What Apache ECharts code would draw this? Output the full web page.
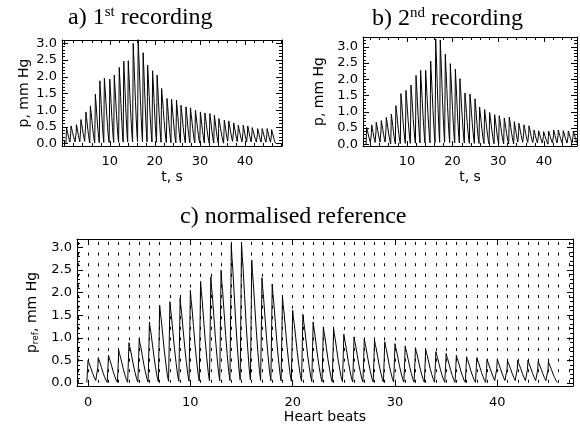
<!DOCTYPE html>
<html>
<head>
<meta charset="utf-8">
<script src="https://cdn.jsdelivr.net/npm/echarts@6/dist/echarts.min.js"></script>
<style>
  html, body { margin: 0; padding: 0; background: #fff; }
  #chart { width: 580px; height: 428px; }
</style>
</head>
<body>
<div id="chart"></div>
<script>
// peak pressure of every beat (mm Hg) and the time of that peak (s)
const peaksA = [0.48, 0.53, 0.57, 0.72, 0.95, 1.13, 1.48, 1.88, 1.96, 1.93, 2.05, 2.28, 2.47, 2.48, 3.00, 3.12,
  2.72, 2.35, 2.18, 2.05, 1.65, 1.35, 1.33, 1.30, 1.15, 1.10, 1.07, 1.00, 0.95, 0.92, 0.90, 0.85,
  0.75, 0.70, 0.68, 0.62, 0.55, 0.55, 0.53, 0.48, 0.45, 0.45, 0.45, 0.42]
const timesA = [0.4, 1.4, 2.6, 3.6, 4.7, 5.7, 6.8, 7.8, 8.8, 10.0, 11.0, 12.1, 13.1, 14.1, 15.2, 16.3,
  17.4, 18.4, 19.5, 20.5, 21.5, 22.7, 23.7, 24.8, 25.8, 26.9, 27.9, 29.0, 30.1, 31.1, 32.2, 33.2,
  34.2, 35.4, 36.4, 37.5, 38.5, 39.6, 40.6, 41.6, 42.8, 43.8, 44.9, 45.9]

const peaksB = [0.52, 0.60, 0.68, 0.73, 0.83, 0.93, 1.19, 1.56, 1.66, 1.82, 2.12, 2.28, 2.28, 2.56, 3.24, 3.21,
  2.77, 2.48, 2.31, 2.02, 1.58, 1.55, 1.40, 1.15, 1.07, 0.98, 0.91, 0.88, 0.81, 0.84, 0.70, 0.65,
  0.60, 0.57, 0.44, 0.42, 0.39, 0.41, 0.44, 0.44, 0.42, 0.41, 0.41]
const timesB = [1.2, 2.3, 3.3, 4.4, 5.5, 6.6, 7.6, 8.7, 9.8, 10.9, 12.0, 13.0, 14.1, 15.2, 16.3, 17.3,
  18.4, 19.5, 20.6, 21.6, 22.7, 23.8, 24.9, 25.9, 27.0, 28.1, 29.2, 30.2, 31.3, 32.4, 33.5, 34.5,
  35.6, 36.7, 37.8, 38.8, 39.9, 41.0, 42.1, 43.1, 44.2, 45.3, 46.4]

const beatsRef = [0, 1, 2, 3, 4, 5, 6, 7, 8, 9, 10, 11, 12, 13, 14, 15, 16, 17, 18, 19, 20, 21, 22,
  23, 24, 25, 26, 27, 28, 29, 30, 31, 32, 33, 34, 35, 36, 37, 38, 39, 40, 41, 42, 43, 44, 45]
const peaksRef = [0.50, 0.56, 0.61, 0.72, 0.89, 0.98, 1.35, 1.72, 1.80, 1.88, 2.05, 2.25, 2.35, 2.50, 3.07, 3.12,
  2.72, 2.33, 2.19, 1.92, 1.61, 1.52, 1.35, 1.24, 1.20, 1.08, 1.02, 0.98, 0.95, 0.91, 0.87, 0.82,
  0.78, 0.74, 0.69, 0.65, 0.61, 0.58, 0.56, 0.52, 0.52, 0.50, 0.50, 0.50, 0.48, 0.47]

// shape of one pulse: offset from the peak (fraction of a beat) and level (fraction of peak)
const shapeOffset = [-0.12, -0.05, 0, 0.07, 0.15, 0.3, 0.45, 0.6, 0.75, 0.87]
const shapeLevel = [0.02, 0.6, 1, 0.9, 0.82, 0.62, 0.42, 0.25, 0.1, 0.02]

function trace(times, peaks) {
  const pts = []
  times.forEach((t, i) => {
    const period = i < times.length - 1 ? times[i + 1] - t : t - times[i - 1]
    shapeOffset.forEach((o, j) => pts.push([t + o * period, peaks[i] * shapeLevel[j]]))
  })
  return pts
}

const sans = 'DejaVu Sans'
const black = '#000'

function xAxisOf(grid, min, max, opts) {
  const base = {
    type: 'value', gridIndex: grid, min: min, max: max,
    axisLine: { show: true, onZero: false, lineStyle: { color: black, width: 1 } },
    axisTick: { show: true, inside: true, length: 5, lineStyle: { color: black } },
    minorTick: { show: true, splitNumber: 5, length: 3, lineStyle: { color: black } },
    splitLine: { show: false },
    axisLabel: { show: false },
  }
  return Object.assign(base, opts)
}

function yAxisOf(grid, min, max, opts) {
  const base = {
    type: 'value', gridIndex: grid, min: min, max: max,
    axisLine: { show: true, onZero: false, lineStyle: { color: black, width: 1 } },
    axisTick: { show: true, inside: true, length: 6, lineStyle: { color: black } },
    minorTick: { show: true, splitNumber: 5, length: 3, lineStyle: { color: black } },
    splitLine: { show: false },
    axisLabel: { show: false },
  }
  return Object.assign(base, opts)
}

const halfLabel = {
  show: true, margin: 5, color: black, fontFamily: sans, fontSize: 13,
  formatter: v => Math.abs(v * 2 - Math.round(v * 2)) < 1e-6 ? v.toFixed(1) : ''
}
const tenLabel = {
  show: true, margin: 9, color: black, fontFamily: sans, fontSize: 13,
  formatter: v => (v > 0 && v % 10 === 0) ? String(v) : ''
}
const nameStyle = { color: black, fontFamily: sans, fontSize: 14 }
const titleStyle = {
  fontFamily: 'Liberation Serif', fontSize: 24, fontWeight: 'normal', color: black,
  rich: { sup: { fontFamily: 'Liberation Serif', fontSize: 15, padding: [0, 0, 10, 0], color: black } }
}
const dotted = { color: black, width: 1, type: [3, 7.6], dashOffset: -3 }

const chart = echarts.init(document.getElementById('chart'), null, { renderer: 'canvas' })

chart.setOption({
  animation: false,
  backgroundColor: '#fff',
  title: [
    { text: 'a) 1{sup|st} recording', left: 68, top: 5, padding: 0, textStyle: titleStyle },
    { text: 'b) 2{sup|nd} recording', left: 372, top: 6, padding: 0, textStyle: titleStyle },
    { text: 'c) normalised reference', left: 180, top: 205, padding: 0, textStyle: titleStyle },
  ],
  grid: [
    { left: 62, top: 40, width: 220, height: 106 },
    { left: 363, top: 37, width: 215, height: 109 },
    { left: 77, top: 239, width: 496, height: 147 },
  ],
  xAxis: [
    xAxisOf(0, -0.6, 48.2, {
      name: 't, s', nameLocation: 'middle', nameGap: 24, nameTextStyle: nameStyle, axisLabel: tenLabel
    }),
    xAxisOf(0, -0.6, 48.2, { position: 'top' }),
    xAxisOf(1, 0.4, 47.2, {
      name: 't, s', nameLocation: 'middle', nameGap: 24, nameTextStyle: nameStyle, axisLabel: tenLabel
    }),
    xAxisOf(1, 0.4, 47.2, { position: 'top' }),
    xAxisOf(2, -1.08, 47.4, {
      name: 'Heart beats', nameLocation: 'middle', nameGap: 22, nameTextStyle: nameStyle,
      axisTick: { show: true, inside: true, length: 6, lineStyle: { color: black } },
      minorTick: { show: false, splitNumber: 10 },
      splitLine: { show: true, lineStyle: dotted },
      minorSplitLine: { show: true, lineStyle: dotted },
      axisLabel: { show: true, margin: 10, color: black, fontFamily: sans, fontSize: 13,
        formatter: v => (v >= 0 && v % 10 === 0) ? String(v) : '' }
    }),
    xAxisOf(2, -1.08, 47.4, {
      position: 'top',
      axisTick: { show: true, inside: true, length: 6, lineStyle: { color: black } },
      minorTick: { show: false, splitNumber: 10 }
    }),
  ],
  yAxis: [
    yAxisOf(0, -0.07, 3.1, {
      name: 'p, mm Hg', nameLocation: 'middle', nameGap: 31, nameTextStyle: nameStyle, axisLabel: halfLabel
    }),
    yAxisOf(0, -0.07, 3.1, { position: 'right' }),
    yAxisOf(1, -0.05, 3.3, {
      name: 'p, mm Hg', nameLocation: 'middle', nameGap: 37, nameTextStyle: nameStyle, axisLabel: halfLabel
    }),
    yAxisOf(1, -0.05, 3.3, { position: 'right' }),
    yAxisOf(2, -0.07, 3.19, {
      name: '{n|p}{s|ref}{n|, mm Hg}', nameLocation: 'middle', nameGap: 33,
      nameTextStyle: Object.assign({}, nameStyle, {
        rich: {
          n: { fontFamily: sans, fontSize: 14, color: black },
          s: { fontFamily: sans, fontSize: 9, color: black, padding: [7, 0, 0, 0] }
        }
      }),
      axisLabel: halfLabel
    }),
    yAxisOf(2, -0.07, 3.19, { position: 'right' }),
  ],
  series: [
    { type: 'line', xAxisIndex: 0, yAxisIndex: 0, data: trace(timesA, peaksA), symbol: 'none',
      lineStyle: { color: black, width: 1 }, clip: true },
    { type: 'line', xAxisIndex: 2, yAxisIndex: 2, data: trace(timesB, peaksB), symbol: 'none',
      lineStyle: { color: black, width: 1 }, clip: true },
    { type: 'line', xAxisIndex: 4, yAxisIndex: 4, data: trace(beatsRef, peaksRef), symbol: 'none',
      lineStyle: { color: black, width: 1 }, clip: true },
  ]
})
</script>
</body>
</html>
